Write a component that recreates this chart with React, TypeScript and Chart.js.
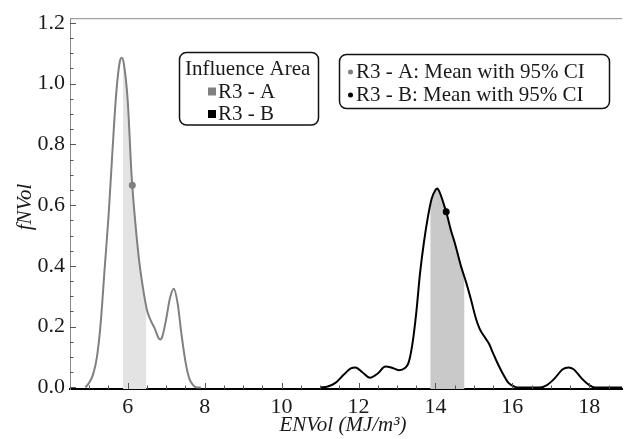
import React, { useEffect, useRef } from 'react';
import { Chart, registerables } from 'chart.js';

Chart.register(...registerables);

const FONT = "'Liberation Serif', 'Times New Roman', serif";

const xTicks = [6, 8, 10, 12, 14, 16, 18];
const yTicks = [0, 0.2, 0.4, 0.6, 0.8, 1.0, 1.2];

// R3 - A density
const areaAX = [4.9, 5.0, 5.1, 5.2, 5.3, 5.4, 5.5, 5.6, 5.7, 5.8, 5.85, 5.9, 6.0, 6.1, 6.2, 6.3, 6.4, 6.5, 6.6, 6.7, 6.8, 6.85, 6.9, 7.0, 7.1, 7.2, 7.3, 7.4, 7.5, 7.6, 7.7, 7.8, 7.9];
const areaAY = [0, 0.016, 0.043, 0.1, 0.215, 0.39, 0.56, 0.77, 0.965, 1.075, 1.085, 1.065, 0.945, 0.7, 0.54, 0.415, 0.325, 0.255, 0.22, 0.195, 0.163, 0.158, 0.168, 0.225, 0.295, 0.325, 0.275, 0.173, 0.086, 0.03, 0.008, 0, 0];

// R3 - B density
const areaBX = [11.0, 11.2, 11.4, 11.6, 11.8, 11.92, 12.1, 12.3, 12.5, 12.7, 12.85, 13.05, 13.2, 13.3, 13.4, 13.5, 13.6, 13.7, 13.8, 13.9, 14.0, 14.05, 14.1, 14.2, 14.3, 14.4, 14.5, 14.66, 14.8, 14.92, 15.05, 15.15, 15.3, 15.4, 15.5, 15.6, 15.75, 15.9, 16.05, 16.2, 16.7, 16.9, 17.1, 17.3, 17.46, 17.6, 17.8, 18.0, 18.15, 18.9];
const areaBY = [0, 0.003, 0.015, 0.04, 0.063, 0.066, 0.05, 0.032, 0.046, 0.069, 0.066, 0.057, 0.063, 0.081, 0.142, 0.244, 0.376, 0.477, 0.558, 0.62, 0.65, 0.655, 0.645, 0.61, 0.568, 0.518, 0.477, 0.401, 0.345, 0.291, 0.228, 0.193, 0.162, 0.142, 0.112, 0.084, 0.046, 0.015, 0.003, 0, 0, 0.008, 0.03, 0.059, 0.066, 0.059, 0.03, 0.008, 0, 0];

const meanA = [6.12];
const meanAY = [0.665];
const ciA = [5.88, 6.48];
const meanB = [14.28];
const meanBY = [0.578];
const ciB = [13.87, 14.75];

const legendAreaTitle = 'Influence Area';
const legendAreaLabels = ['R3 - A', 'R3 - B'];
const legendMeanLabels = ['R3 - A: Mean with 95% CI', 'R3 - B: Mean with 95% CI'];

const GRAY = '#808080';
const BLACK = '#000000';

const toPts = (xs: number[], ys: number[]) => xs.map((x, i) => ({ x, y: ys[i] }));

function roundRect(ctx: CanvasRenderingContext2D, x: number, y: number, w: number, h: number, r: number) {
  ctx.beginPath();
  ctx.moveTo(x + r, y);
  ctx.lineTo(x + w - r, y);
  ctx.arcTo(x + w, y, x + w, y + r, r);
  ctx.lineTo(x + w, y + h - r);
  ctx.arcTo(x + w, y + h, x + w - r, y + h, r);
  ctx.lineTo(x + r, y + h);
  ctx.arcTo(x, y + h, x, y + h - r, r);
  ctx.lineTo(x, y + r);
  ctx.arcTo(x, y, x + r, y, r);
  ctx.closePath();
}

const shades = [
  { index: 0, range: ciA, color: '#e3e3e3' },
  { index: 1, range: ciB, color: '#c9c9c9' },
];

const decorPlugin = {
  id: 'decor',
  beforeDatasetsDraw(chart: any) {
    const { ctx, chartArea, scales } = chart;
    const x = scales.x;
    shades.forEach((s) => {
      const meta = chart.getDatasetMeta(s.index);
      const line = meta.dataset;
      if (!line) return;
      line.updateControlPoints(chartArea, 'x');
      const x0 = x.getPixelForValue(s.range[0]);
      const x1 = x.getPixelForValue(s.range[1]);
      ctx.save();
      ctx.beginPath();
      ctx.rect(x0, chartArea.top, x1 - x0, chartArea.bottom - chartArea.top);
      ctx.clip();
      ctx.beginPath();
      line.path(ctx);
      const pts = meta.data;
      ctx.lineTo(pts[pts.length - 1].x, chartArea.bottom);
      ctx.lineTo(pts[0].x, chartArea.bottom);
      ctx.closePath();
      ctx.fillStyle = s.color;
      ctx.fill();
      ctx.restore();
    });
  },
  afterDraw(chart: any) {
    const { ctx, chartArea, scales } = chart;
    const x = scales.x;
    const y = scales.y;
    ctx.save();
    // top frame
    ctx.strokeStyle = '#8a8a8a';
    ctx.lineWidth = 1;
    ctx.beginPath();
    ctx.moveTo(chartArea.left, chartArea.top + 0.5);
    ctx.lineTo(chartArea.right, chartArea.top + 0.5);
    ctx.stroke();
    // x ticks (inside)
    ctx.strokeStyle = '#555';
    for (let v = 5; v <= 18.6; v += 0.5) {
      const px = Math.round(x.getPixelForValue(v)) + 0.5;
      const major = Math.abs(v / 2 - Math.round(v / 2)) < 1e-6;
      const len = major ? 6 : 3.5;
      ctx.beginPath();
      ctx.moveTo(px, chartArea.bottom);
      ctx.lineTo(px, chartArea.bottom - len);
      ctx.stroke();
    }
    // y ticks (inside)
    for (let i = 0; i <= 24; i++) {
      const v = i * 0.05;
      const py = Math.round(y.getPixelForValue(v)) + 0.5;
      const len = i % 4 === 0 ? 6 : 3.5;
      ctx.beginPath();
      ctx.moveTo(chartArea.left, py);
      ctx.lineTo(chartArea.left + len, py);
      ctx.stroke();
    }
    // axis titles
    ctx.fillStyle = '#1a1a1a';
    ctx.font = `italic 21px ${FONT}`;
    ctx.textAlign = 'center';
    ctx.textBaseline = 'middle';
    ctx.fillText('ENVol (MJ/m³)', (chartArea.left + chartArea.right) / 2 - 3, 425);
    ctx.save();
    ctx.translate(25, 207);
    ctx.rotate(-Math.PI / 2);
    ctx.fillText('fNVol', 0, 0);
    ctx.restore();

    // legend 1
    ctx.lineWidth = 1.5;
    ctx.strokeStyle = '#111';
    ctx.fillStyle = '#fff';
    roundRect(ctx, 179.5, 52.5, 139, 72.5, 7);
    ctx.fill();
    ctx.stroke();
    ctx.fillStyle = '#1a1a1a';
    ctx.font = `21px ${FONT}`;
    ctx.textAlign = 'left';
    ctx.textBaseline = 'middle';
    ctx.fillText(legendAreaTitle, 185, 69);
    const sqColors = [GRAY, BLACK];
    legendAreaLabels.forEach((lab, i) => {
      const cy = 91.5 + i * 22.5;
      ctx.fillStyle = sqColors[i];
      ctx.fillRect(208, cy - 4, 8, 8);
      ctx.fillStyle = '#1a1a1a';
      ctx.fillText(lab, 218, cy + 0.5);
    });

    // legend 2
    ctx.strokeStyle = '#111';
    ctx.fillStyle = '#fff';
    roundRect(ctx, 339.5, 54.5, 270, 54, 7);
    ctx.fill();
    ctx.stroke();
    legendMeanLabels.forEach((lab, i) => {
      const cy = 72 + i * 23;
      ctx.fillStyle = sqColors[i];
      ctx.beginPath();
      ctx.arc(350.5, cy, 2.5, 0, Math.PI * 2);
      ctx.fill();
      ctx.fillStyle = '#1a1a1a';
      ctx.fillText(lab, 356, cy + 0.5);
    });
    ctx.restore();
  },
};

export default function App() {
  const ref = useRef<HTMLCanvasElement | null>(null);
  useEffect(() => {
    document.body.style.margin = '0';
    const canvas = ref.current;
    if (!canvas) return;
    const chart = new Chart(canvas, {
      type: 'line',
      data: {
        datasets: [
          {
            label: 'R3 - A',
            data: toPts(areaAX, areaAY),
            borderColor: GRAY,
            borderWidth: 2,
            pointRadius: 0,
            cubicInterpolationMode: 'monotone',
            fill: false,
          },
          {
            label: 'R3 - B',
            data: toPts(areaBX, areaBY),
            borderColor: BLACK,
            borderWidth: 2,
            pointRadius: 0,
            cubicInterpolationMode: 'monotone',
            fill: false,
          },
          {
            label: 'Mean A',
            data: toPts(meanA, meanAY),
            showLine: false,
            pointRadius: 3.5,
            pointBackgroundColor: GRAY,
            pointBorderWidth: 0,
          },
          {
            label: 'Mean B',
            data: toPts(meanB, meanBY),
            showLine: false,
            pointRadius: 3.5,
            pointBackgroundColor: BLACK,
            pointBorderWidth: 0,
          },
        ],
      } as any,
      options: {
        animation: false,
        responsive: false,
        maintainAspectRatio: false,
        layout: { padding: { top: 17, left: 0, right: 0, bottom: 0 } },
        plugins: { legend: { display: false }, tooltip: { enabled: false } },
        scales: {
          x: {
            type: 'linear',
            min: 4.5,
            max: 18.85,
            afterBuildTicks: (s: any) => {
              s.ticks = xTicks.map((v) => ({ value: v }));
            },
            afterFit: (s: any) => {
              s.height = 50;
            },
            grid: { display: false, drawTicks: false },
            border: { display: true, color: '#000', width: 2 },
            ticks: {
              autoSkip: false,
              maxRotation: 0,
              padding: 5,
              color: '#1a1a1a',
              font: { family: FONT, size: 22 },
            },
          },
          y: {
            type: 'linear',
            min: -0.005,
            max: 1.215,
            afterBuildTicks: (s: any) => {
              s.ticks = yTicks.map((v) => ({ value: v }));
            },
            afterFit: (s: any) => {
              s.width = 70;
            },
            grid: { display: false, drawTicks: false },
            border: { display: true, color: '#8a8a8a', width: 1 },
            ticks: {
              padding: 5,
              color: '#1a1a1a',
              font: { family: FONT, size: 22 },
              callback: (v: any) => Number(v).toFixed(1),
            },
          },
        },
      } as any,
      plugins: [decorPlugin],
    });
    return () => chart.destroy();
  }, []);
  return (
    <div style={{ position: 'absolute', left: 0, top: 0, width: 626, height: 439, background: '#fff' }}>
      <canvas ref={ref} width={626} height={439} style={{ width: 626, height: 439 }} />
    </div>
  );
}
